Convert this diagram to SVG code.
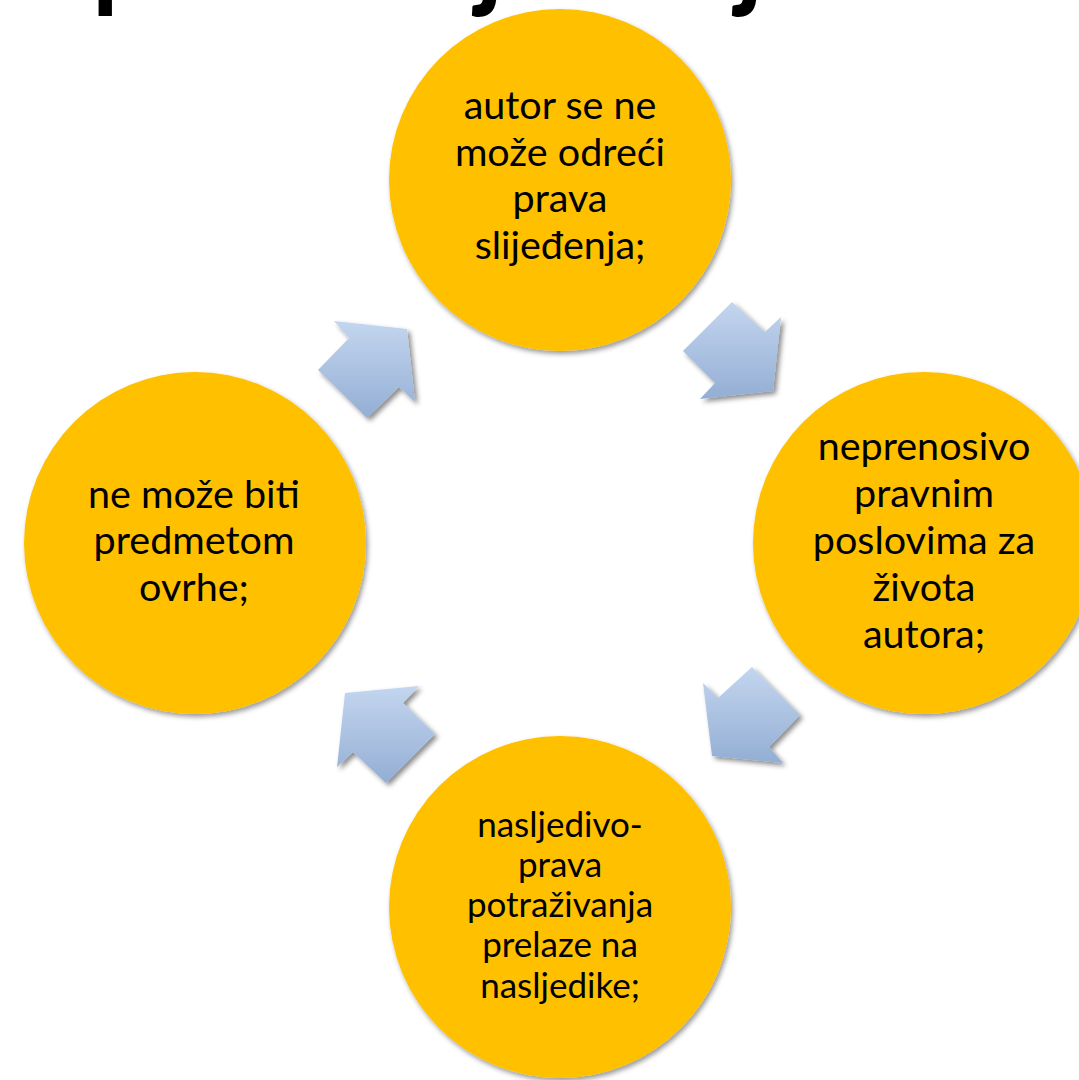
<svg xmlns="http://www.w3.org/2000/svg" width="1079" height="1080" viewBox="0 0 1079 1080">
<defs>
<style>
.node{fill:#FFC000;filter:url(#sh);}
.lbl{font-family:Lato,"Liberation Sans",sans-serif;font-size:39.5px;fill:#000;text-anchor:middle;}
.lbl.s{font-size:35px;}
.arr{fill:url(#ag);filter:url(#ash);}
.title{font-family:Lato,"Liberation Sans",sans-serif;font-weight:bold;font-size:108px;fill:#000;}
</style>
<linearGradient id="ag" x1="0" y1="0" x2="0" y2="1">
<stop offset="0" stop-color="#C4D6EF"/>
<stop offset="1" stop-color="#93AED4"/>
</linearGradient>
<filter id="sh" x="-10%" y="-10%" width="125%" height="125%">
<feDropShadow dx="2" dy="3" stdDeviation="2.5" flood-color="#000" flood-opacity="0.4"/>
</filter>
<filter id="ash" x="-15%" y="-15%" width="135%" height="135%">
<feDropShadow dx="3" dy="3" stdDeviation="2.5" flood-color="#000" flood-opacity="0.45"/>
</filter>
</defs>
<rect width="1079" height="1080" fill="#FFFFFF"/>
<text class="title" transform="scale(1,1.2)" y="-4.6" x="92 150.7 189.7 244.1 296.2 350.5 375.4 419.3 446.4 476 503 560 620 676 736 759">prava slijeđenja</text>
<g id="connectors">
<polygon class="arr" points="732,302 765,332 781,317 773,391 700,399 715,383 683,351"/>
<polygon class="arr" points="752,667 800,715 769,747 783,763 712,756 703,683 718,698"/>
<polygon class="arr" points="435,734 386,783 353,752 337,767 345,693 419,686 403,703"/>
<polygon class="arr" points="318,370 367,418 399,387 415,402 407,329 334,321 349,338"/>
</g>
<g id="node-top">
<circle class="node" cx="560" cy="180" r="171"/>
<text class="lbl" x="560" y="119">autor se ne</text>
<text class="lbl" x="560" y="165.7">može odreći</text>
<text class="lbl" x="560" y="212.3">prava</text>
<text class="lbl" x="560" y="259">slijeđenja;</text>
</g>
<g id="node-right">
<circle class="node" cx="924" cy="543" r="171"/>
<text class="lbl" x="924" y="460.4">neprenosivo</text>
<text class="lbl" x="924" y="507.2">pravnim</text>
<text class="lbl" x="924" y="554">poslovima za</text>
<text class="lbl" x="924" y="600.8">života</text>
<text class="lbl" x="924" y="647.6">autora;</text>
</g>
<g id="node-bottom">
<circle class="node" cx="560" cy="907" r="171"/>
<text class="lbl s" x="560" y="837.3">nasljedivo-</text>
<text class="lbl s" x="560" y="877.3">prava</text>
<text class="lbl s" x="560" y="917.3">potraživanja</text>
<text class="lbl s" x="560" y="957.3">prelaze na</text>
<text class="lbl s" x="560" y="997.8">nasljedike;</text>
</g>
<g id="node-left">
<circle class="node" cx="195" cy="543" r="171"/>
<text class="lbl" x="194" y="507.7">ne može biti</text>
<text class="lbl" x="194" y="554.3">predmetom</text>
<text class="lbl" x="194" y="601">ovrhe;</text>
</g>
</svg>
